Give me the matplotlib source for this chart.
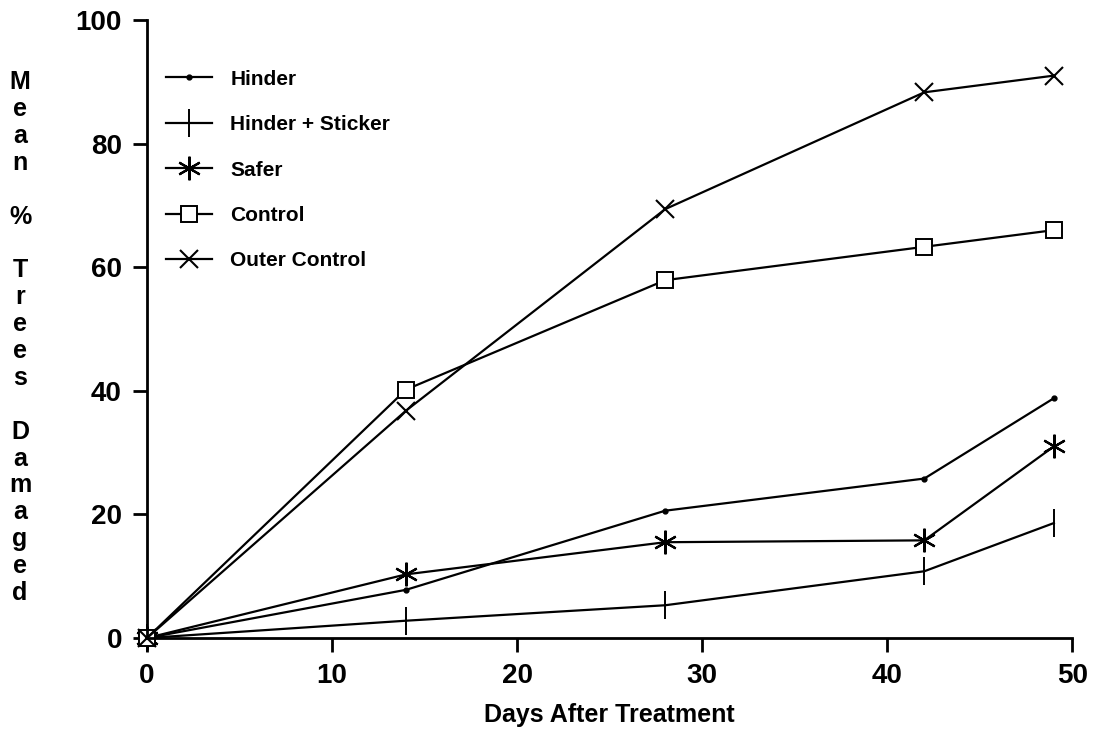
import numpy as np
import matplotlib
matplotlib.use("Agg")
import matplotlib.pyplot as plt

# days after treatment
days = [0, 14, 28, 42, 49]

# mean % trees damaged
hinder = [0, 7.8, 20.6, 25.8, 38.8]
hinder_sticker = [0, 2.8, 5.3, 10.8, 18.6]
safer = [0, 10.3, 15.5, 15.8, 31.0]
control = [0, 40.2, 57.9, 63.3, 66.0]
outer_control = [0, 36.8, 69.4, 88.3, 91.0]

series_names = ["Hinder", "Hinder + Sticker", "Safer", "Control", "Outer Control"]
x_ticks = [0, 10, 20, 30, 40, 50]
y_ticks = [0, 20, 40, 60, 80, 100]

plt.rcParams['font.family'] = ['Liberation Sans', 'DejaVu Sans']
plt.rcParams['font.weight'] = 'bold'

fig = plt.figure(figsize=(11.01, 7.33), dpi=100)
ax = fig.add_axes([0.1335, 0.1296, 0.8405, 0.8431])

lw = 1.6
ax.plot(days, hinder, color='black', lw=lw, marker='o', ms=3.5, label=series_names[0], clip_on=False)
ax.plot(days, hinder_sticker, color='black', lw=lw, marker='|', ms=20, mew=1.4, label=series_names[1], clip_on=False)
ax.plot(days, safer, color='black', lw=lw, marker=(6, 2, 0), ms=17, mew=1.6, label=series_names[2], clip_on=False)
ax.plot(days, control, color='black', lw=lw, marker='s', ms=11, mfc='white', mew=1.4, label=series_names[3], clip_on=False)
ax.plot(days, outer_control, color='black', lw=lw, marker='x', ms=13, mew=1.5, label=series_names[4], clip_on=False)

ax.set_xlim(0, 50)
ax.set_ylim(0, 100)
ax.set_xticks(x_ticks)
ax.set_yticks(y_ticks)
ax.spines['top'].set_visible(False)
ax.spines['right'].set_visible(False)
ax.spines['left'].set_linewidth(2)
ax.spines['bottom'].set_linewidth(2)
ax.tick_params(axis='both', direction='out', length=10, width=2, labelsize=20, pad=8)
for lab in ax.get_xticklabels() + ax.get_yticklabels():
    lab.set_fontweight('bold')

ax.set_xlabel("Days After Treatment", fontsize=18, fontweight='bold', labelpad=10)

leg = ax.legend(loc='upper left', bbox_to_anchor=(0.0, 0.95), frameon=False,
                handlelength=2.2, labelspacing=1.27, handletextpad=0.9,
                prop={'weight': 'bold', 'size': 15})

# vertical stacked y label
letters = list("Mean") + [""] + ["%"] + [""] + list("Trees") + [""] + list("Damaged")
y0 = 733 - 82
step = 26.9
for i, ch in enumerate(letters):
    if ch:
        fig.text(20 / 1101, (y0 - i * step) / 733, ch, fontsize=18, fontweight='bold',
                 ha='center', va='center')

fig.savefig("out.png", dpi=100)
